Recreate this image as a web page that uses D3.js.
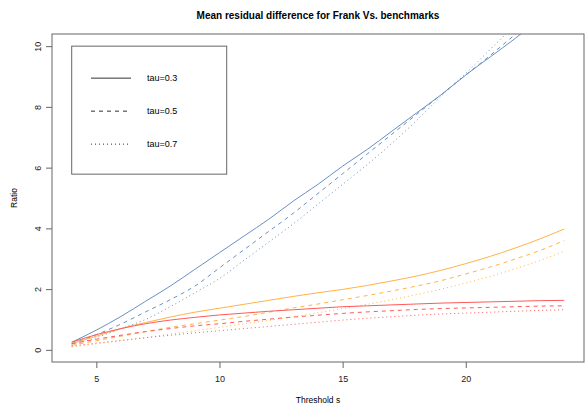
<!DOCTYPE html>
<html>
<head>
<meta charset="utf-8">
<script src="https://cdn.jsdelivr.net/npm/d3@7"></script>
<style>
  body { margin: 0; background: #fff; }
  text { font-family: "Liberation Sans", Arial, sans-serif; }
</style>
</head>
<body>
<div id="viz"></div>
<script>
const width = 587;
const height = 407;

// Threshold values (x)
const threshold = [4, 5, 6, 7, 8, 9, 10, 11, 12, 13, 14, 15, 16, 17, 18, 19, 20, 21, 22, 23, 24];

// benchmark 1 (blue)
const blueTau03 = [0.25, 0.65, 1.1, 1.6, 2.1, 2.65, 3.2, 3.75, 4.3, 4.9, 5.45, 6.05, 6.6, 7.2, 7.8, 8.4, 9.05, 9.65, 10.25, 10.9, 11.5];
const blueTau05 = [0.2, 0.5, 0.85, 1.25, 1.65, 2.1, 2.7, 3.3, 3.9, 4.5, 5.15, 5.8, 6.45, 7.1, 7.75, 8.4, 9.05, 9.7, 10.38, 11.05, 11.7];
const blueTau07 = [0.15, 0.4, 0.7, 1.0, 1.42, 1.88, 2.35, 2.95, 3.55, 4.15, 4.8, 5.45, 6.1, 6.8, 7.55, 8.35, 9.1, 9.9, 10.7, 11.5, 12.3];

// benchmark 2 (orange)
const orangeTau03 = [0.2, 0.45, 0.7, 0.9, 1.08, 1.24, 1.37, 1.5, 1.63, 1.76, 1.88, 1.99, 2.12, 2.27, 2.43, 2.62, 2.84, 3.08, 3.35, 3.65, 3.98];
const orangeTau05 = [0.15, 0.3, 0.45, 0.6, 0.74, 0.86, 0.98, 1.1, 1.24, 1.38, 1.51, 1.65, 1.79, 1.94, 2.1, 2.28, 2.5, 2.73, 2.99, 3.27, 3.6];
const orangeTau07 = [0.1, 0.2, 0.3, 0.4, 0.52, 0.63, 0.74, 0.86, 0.97, 1.09, 1.22, 1.36, 1.5, 1.65, 1.82, 2.0, 2.2, 2.42, 2.67, 2.94, 3.25];

// benchmark 3 (red)
const redTau03 = [0.25, 0.5, 0.7, 0.86, 0.98, 1.07, 1.15, 1.21, 1.27, 1.32, 1.37, 1.42, 1.45, 1.48, 1.51, 1.54, 1.56, 1.58, 1.6, 1.62, 1.63];
const redTau05 = [0.2, 0.35, 0.48, 0.6, 0.7, 0.79, 0.86, 0.94, 1.01, 1.08, 1.14, 1.2, 1.25, 1.29, 1.33, 1.36, 1.38, 1.4, 1.42, 1.44, 1.45];
const redTau07 = [0.12, 0.22, 0.31, 0.4, 0.48, 0.56, 0.63, 0.7, 0.77, 0.84, 0.91, 0.98, 1.04, 1.09, 1.14, 1.18, 1.21, 1.24, 1.27, 1.3, 1.32];

const xTicks = [5, 10, 15, 20];
const yTicks = [0, 2, 4, 6, 8, 10];
const legendLabels = ['tau=0.3', 'tau=0.5', 'tau=0.7'];

const dashes = [null, '4,4', '1,3'];
const blue = '#6990c2';
const orange = '#ffb347';
const red = '#ff5959';
const series = [
  {values: blueTau03, color: blue, lty: 0},
  {values: blueTau05, color: blue, lty: 1},
  {values: blueTau07, color: blue, lty: 2},
  {values: orangeTau03, color: orange, lty: 0},
  {values: orangeTau05, color: orange, lty: 1},
  {values: orangeTau07, color: orange, lty: 2},
  {values: redTau03, color: red, lty: 0},
  {values: redTau05, color: red, lty: 1},
  {values: redTau07, color: red, lty: 2}
];

const plot = {left: 52, right: 584, top: 34, bottom: 362};

const xScale = d3.scaleLinear()
  .domain([3.2, 24.8])
  .range([plot.left, plot.right]);

const yScale = d3.scaleLinear()
  .domain([-0.4, 10.4])
  .range([plot.bottom, plot.top]);

const svg = d3.select('#viz')
  .append('svg')
    .attr('width', width)
    .attr('height', height);

svg.append('defs').append('clipPath')
    .attr('id', 'plotclip')
  .append('rect')
    .attr('x', plot.left)
    .attr('y', plot.top)
    .attr('width', plot.right - plot.left)
    .attr('height', plot.bottom - plot.top);

// lines
const lineGen = d3.line()
  .x((d, i) => xScale(threshold[i]))
  .y(d => yScale(d))
  .curve(d3.curveMonotoneX);

svg.append('g')
    .attr('clip-path', 'url(#plotclip)')
  .selectAll('path')
  .data(series)
  .join('path')
    .attr('d', d => lineGen(d.values))
    .attr('fill', 'none')
    .attr('stroke', d => d.color)
    .attr('stroke-width', 1)
    .attr('stroke-dasharray', d => dashes[d.lty]);

// plot box
svg.append('rect')
  .attr('x', plot.left)
  .attr('y', plot.top)
  .attr('width', plot.right - plot.left)
  .attr('height', plot.bottom - plot.top)
  .attr('fill', 'none')
  .attr('stroke', '#666')
  .attr('stroke-width', 1);

// x axis
const xAxis = svg.append('g')
  .attr('transform', `translate(0, ${plot.bottom})`)
  .call(d3.axisBottom(xScale).tickValues(xTicks).tickSize(6).tickPadding(8).tickSizeOuter(0));
xAxis.select('.domain').remove();
xAxis.selectAll('line').attr('stroke', '#666');
xAxis.selectAll('text').style('font-size', '9px').attr('fill', '#222');

// y axis, R style rotated labels
const yAxis = svg.append('g')
  .attr('transform', `translate(${plot.left}, 0)`)
  .call(d3.axisLeft(yScale).tickValues(yTicks).tickSize(6));
yAxis.select('.domain').remove();
yAxis.selectAll('line').attr('stroke', '#666');
yAxis.selectAll('text')
  .attr('transform', 'rotate(-90)')
  .attr('x', 0)
  .attr('y', -11)
  .attr('dy', 0)
  .style('text-anchor', 'middle')
  .style('font-size', '9px')
  .attr('fill', '#222');

// titles
svg.append('text')
  .attr('x', (plot.left + plot.right) / 2)
  .attr('y', 19)
  .attr('text-anchor', 'middle')
  .style('font-size', '10px')
  .style('font-weight', 'bold')
  .text('Mean residual difference for Frank Vs. benchmarks');

svg.append('text')
  .attr('x', (plot.left + plot.right) / 2)
  .attr('y', 403)
  .attr('text-anchor', 'middle')
  .style('font-size', '8.5px')
  .text('Threshold s');

svg.append('text')
  .attr('transform', `translate(17, ${(plot.top + plot.bottom) / 2}) rotate(-90)`)
  .attr('text-anchor', 'middle')
  .style('font-size', '8.5px')
  .text('Ratio');

// legend
const legend = svg.append('g');
legend.append('rect')
  .attr('x', xScale(4))
  .attr('y', yScale(10))
  .attr('width', 155)
  .attr('height', 128)
  .attr('fill', '#fff')
  .attr('stroke', '#666');

const rows = legend.selectAll('g.row')
  .data(legendLabels)
  .join('g')
    .attr('class', 'row')
    .attr('transform', (d, i) => `translate(0, ${yScale(10) + 32 + i * 33})`);

rows.append('line')
  .attr('x1', 91)
  .attr('x2', 131)
  .attr('stroke', '#333')
  .attr('stroke-dasharray', (d, i) => dashes[i]);

rows.append('text')
  .attr('x', 147)
  .attr('dy', '0.35em')
  .style('font-size', '9px')
  .text(d => d);
</script>
</body>
</html>
